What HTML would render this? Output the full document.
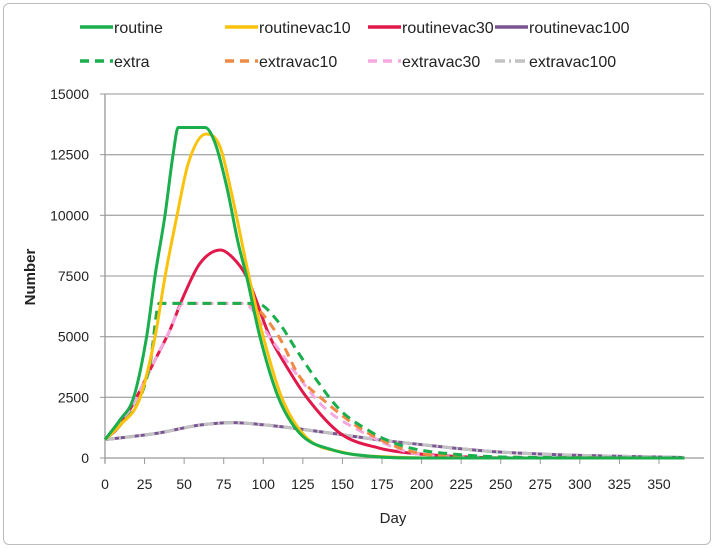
<!DOCTYPE html>
<html><head><meta charset="utf-8"><style>
body{margin:0;background:#fff;font-family:"Liberation Sans",sans-serif}
#frame{position:absolute;left:3px;top:3px;width:706px;height:540px;border:1px solid #bdbdbd;border-radius:6px;background:#fff}
</style></head><body>
<div id="frame"></div>
<svg id="chart" width="714" height="548" style="position:absolute;left:0;top:0"></svg>
<script>
const yTicks=[0,2500,5000,7500,10000,12500,15000];
const xTicks=[0,25,50,75,100,125,150,175,200,225,250,275,300,325,350];
const names=["routine","routinevac10","routinevac30","routinevac100","extra","extravac10","extravac30","extravac100"];
const routine=[[0,760],[9.5,1570],[18,2480],[26.3,5000],[31.6,7500],[37.9,10000],[43,12500],[46.3,13620],[63.2,13620],[69.6,12970],[76.9,11180],[84.2,8840],[89.5,7470],[97.9,4990],[109.5,2500],[123,1020],[144,330],[170,60],[200,0],[366,0]];
const routinevac10=[[0,760],[9.5,1350],[22,2460],[31.6,4990],[37.9,7460],[45.3,9930],[52.6,12140],[63.8,13350],[72.6,12840],[80,10900],[91,7470],[100,4990],[111.6,2500],[127,860],[150,240],[180,40],[215,0],[366,0]];
const routinevac30=[[0,760],[9,1300],[17.9,2250],[30.5,3900],[41,5270],[49.5,6650],[60,8020],[73,8570],[80,8300],[89.5,7470],[104.2,4990],[114.8,3760],[127.4,2500],[148.5,1020],[173.7,400],[193,200],[230,40],[260,0],[366,0]];
const routinevac100=[[0,760],[33,1020],[60,1360],[81,1460],[100,1370],[125,1180],[150,960],[173.7,740],[193,600],[242,280],[280,150],[318,80],[366,20]];
const extra=[[0,760],[9.5,1350],[22,2460],[28.5,3900],[34.3,6370],[60,6370],[95.8,6370],[108.5,5690],[121,4450],[133.7,3210],[148.5,1980],[169.5,1020],[176,800],[193,410],[230,110],[260,30],[366,0]];
const extravac10=[[0,760],[9.5,1350],[22,2460],[28.5,3900],[34.3,6370],[60,6370],[89.5,6370],[108.5,5140],[123,3350],[138,2390],[163,1150],[193,275],[230,60],[366,0]];
const extravac30=[[0,760],[9,1300],[17.9,2250],[30.5,3900],[41,5270],[49.5,6370],[70,6370],[87.4,6370],[104,4990],[119,3630],[138,2110],[164,1020],[193,220],[230,40],[366,0]];
const extravac100=[[0,760],[33,1020],[60,1360],[81,1460],[100,1370],[125,1180],[150,960],[173.7,740],[193,600],[242,280],[280,150],[318,80],[366,20]];
const series=[routine,routinevac10,routinevac30,routinevac100,extra,extravac10,extravac30,extravac100];
const colors=["#1aae4c","#fbc20b","#e0194a","#7b5493","#1aae4c","#ef8a45","#f5a9e0","#c2c2c2"];
const dashes=["","","","","9,6","9,6","9,6","10,4,2,4"];
const X0=105,X1=659,Y0=458,Y1=94;
const xs=d=>X0+(X1-X0)*d/350, ys=v=>Y0-(Y0-Y1)*v/15000;
const svg=document.getElementById('chart');const NS="http://www.w3.org/2000/svg";
function mk(t,a,p){const e=document.createElementNS(NS,t);for(const k in a)e.setAttribute(k,a[k]);(p||svg).appendChild(e);return e;}
yTicks.forEach(v=>{
 const g=mk('line',{x1:X0,x2:704,y1:ys(v),y2:ys(v),stroke:v===0?'#999':'#aaa','stroke-width':1.3});
 
 
 const tk=mk('line',{x1:X0-5,x2:X0,y1:ys(v),y2:ys(v),stroke:'#999'});
 
 
 const t=mk('text',{x:X0-16,y:ys(v)+5,'text-anchor':'end','font-size':14,fill:'#222'});t.textContent=v;
 
 
});
const ax=mk('line',{x1:X0,x2:X0,y1:Y1,y2:Y0+5,stroke:'#999','stroke-width':1.3});


xTicks.forEach(d=>{
 const tk=mk('line',{x1:xs(d),x2:xs(d),y1:Y0,y2:Y0+6,stroke:'#999'});
 
 
 const t=mk('text',{x:xs(d),y:Y0+31,'text-anchor':'middle','font-size':14,fill:'#222'});t.textContent=d;
 
 
});
function path(pts){
 const p=pts.map(q=>[xs(q[0]),ys(q[1])]);const n=p.length;
 const dl=[],m=[];
 for(let i=0;i<n-1;i++)dl.push((p[i+1][1]-p[i][1])/(p[i+1][0]-p[i][0]));
 for(let i=0;i<n;i++){
  if(i===0)m.push(dl[0]);else if(i===n-1)m.push(dl[n-2]);
  else m.push(dl[i-1]*dl[i]<=0?0:(dl[i-1]+dl[i])/2);
 }
 for(let i=0;i<n-1;i++){
  if(dl[i]===0){m[i]=0;m[i+1]=0;continue;}
  const a=m[i]/dl[i],b=m[i+1]/dl[i],s=a*a+b*b;
  if(s>9){const t=3/Math.sqrt(s);m[i]=t*a*dl[i];m[i+1]=t*b*dl[i];}
 }
 let s=`M${p[0][0]},${p[0][1]}`;
 for(let i=0;i<n-1;i++){const h=(p[i+1][0]-p[i][0])/3;
  s+=` C${p[i][0]+h},${p[i][1]+m[i]*h} ${p[i+1][0]-h},${p[i+1][1]-m[i+1]*h} ${p[i+1][0]},${p[i+1][1]}`;}
 return s;}
const order=[3,7,2,6,5,4,1,0];
order.forEach(i=>{const e=mk('path',{d:path(series[i]),fill:'none',stroke:colors[i],'stroke-width':3,'stroke-dasharray':dashes[i]});
 
 });
const legX=[80,225,368,495],legY=[27,61];
names.forEach((n,i)=>{const x=legX[i%4],y=legY[Math.floor(i/4)];
 const l=mk('line',{x1:x,x2:x+33,y1:y,y2:y,stroke:colors[i],'stroke-width':3.5,'stroke-dasharray':dashes[i]});
 
 
 const t=mk('text',{x:x+34,y:y+6,'font-size':16,fill:'#222'});t.textContent=n;
 
 });
const xt=mk('text',{x:393,y:523,'text-anchor':'middle','font-size':15,fill:'#222'});xt.textContent='Day';


const yt=mk('text',{x:0,y:0,'text-anchor':'middle','font-size':15,'font-weight':'bold',fill:'#222',transform:'translate(35,277) rotate(-90)'});yt.textContent='Number';


</script>
</body></html>
